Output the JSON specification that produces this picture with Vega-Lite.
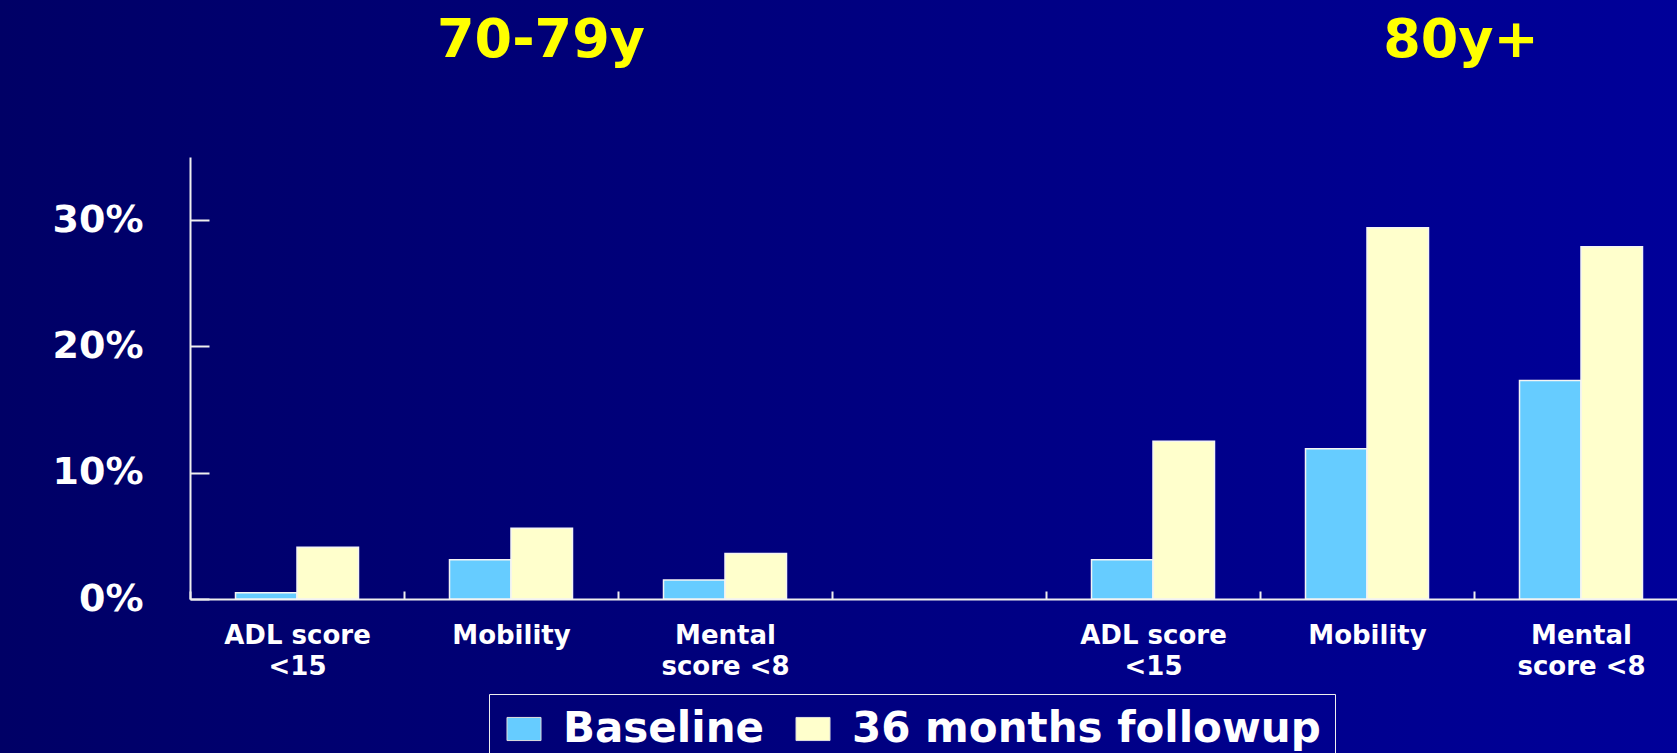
{
  "$schema": "https://vega.github.io/schema/vega-lite/v6.json",
  "width": 1677,
  "height": 753,
  "autosize": {"type": "none"},
  "padding": 0,
  "background": "#000066",
  "config": {
    "view": {
      "stroke": null,
      "fill": {
        "gradient": "linear",
        "x1": 0, "y1": 0, "x2": 1, "y2": 0,
        "stops": [
          {"offset": 0, "color": "#000066"},
          {"offset": 1, "color": "#000099"}
        ]
      }
    },
    "axis": {"grid": false}
  },
  "datasets": {
    "rates": [
      {"slot": "70-79y ADL score <15", "age": "70-79y", "measure": "ADL score <15", "series": "Baseline", "pct": 0.5},
      {"slot": "70-79y ADL score <15", "age": "70-79y", "measure": "ADL score <15", "series": "36 months followup", "pct": 4.1},
      {"slot": "70-79y Mobility", "age": "70-79y", "measure": "Mobility", "series": "Baseline", "pct": 3.1},
      {"slot": "70-79y Mobility", "age": "70-79y", "measure": "Mobility", "series": "36 months followup", "pct": 5.6},
      {"slot": "70-79y Mental score <8", "age": "70-79y", "measure": "Mental score <8", "series": "Baseline", "pct": 1.5},
      {"slot": "70-79y Mental score <8", "age": "70-79y", "measure": "Mental score <8", "series": "36 months followup", "pct": 3.6},
      {"slot": "80y+ ADL score <15", "age": "80y+", "measure": "ADL score <15", "series": "Baseline", "pct": 3.1},
      {"slot": "80y+ ADL score <15", "age": "80y+", "measure": "ADL score <15", "series": "36 months followup", "pct": 12.5},
      {"slot": "80y+ Mobility", "age": "80y+", "measure": "Mobility", "series": "Baseline", "pct": 11.9},
      {"slot": "80y+ Mobility", "age": "80y+", "measure": "Mobility", "series": "36 months followup", "pct": 29.4},
      {"slot": "80y+ Mental score <8", "age": "80y+", "measure": "Mental score <8", "series": "Baseline", "pct": 17.3},
      {"slot": "80y+ Mental score <8", "age": "80y+", "measure": "Mental score <8", "series": "36 months followup", "pct": 27.9}
    ],
    "groups": [
      {"slot": "70-79y Mobility", "age": "70-79y"},
      {"slot": "80y+ Mobility", "age": "80y+"}
    ]
  },
  "layer": [
    {
      "data": {"name": "rates"},
      "mark": {"type": "bar", "stroke": "#F4F4F4", "strokeWidth": 1.5},
      "encoding": {
        "x": {
          "field": "slot",
          "type": "nominal",
          "scale": {
            "domain": [
              "70-79y ADL score <15", "70-79y Mobility", "70-79y Mental score <8",
              "gap",
              "80y+ ADL score <15", "80y+ Mobility", "80y+ Mental score <8"
            ],
            "range": [190, 1688],
            "paddingInner": 0,
            "paddingOuter": 0
          },
          "axis": {
            "title": null,
            "offset": -154,
            "domainColor": "#EEEEEE",
            "domainWidth": 2,
            "tickColor": "#EEEEEE",
            "tickWidth": 2,
            "tickSize": -8,
            "tickBand": "extent",
            "labelAngle": 0,
            "labelPadding": 31,
            "labelFont": "DejaVu Sans",
            "labelFontWeight": "bold",
            "labelFontSize": 26,
            "labelLineHeight": 31,
            "labelColor": "white",
            "labelLimit": 0,
            "labelOverlap": false,
            "labelExpr": "indexof(datum.label, 'ADL') >= 0 ? ['ADL score', '<15'] : indexof(datum.label, 'Mobility') >= 0 ? 'Mobility' : indexof(datum.label, 'Mental') >= 0 ? ['Mental', 'score <8'] : ''"
          }
        },
        "xOffset": {
          "field": "series",
          "type": "nominal",
          "scale": {
            "domain": ["Baseline", "36 months followup"],
            "paddingInner": 0,
            "paddingOuter": 0.74
          }
        },
        "y": {
          "field": "pct",
          "type": "quantitative",
          "scale": {"domain": [0, 35], "range": [599, 157], "nice": false},
          "axis": {
            "title": null,
            "offset": -190,
            "values": [0, 10, 20, 30],
            "labelExpr": "datum.value + '%'",
            "domainColor": "#EEEEEE",
            "domainWidth": 2,
            "tickColor": "#EEEEEE",
            "tickWidth": 2,
            "tickSize": -19,
            "labelPadding": 66,
            "labelFont": "DejaVu Sans",
            "labelFontWeight": "bold",
            "labelFontSize": 38,
            "labelColor": "white"
          }
        },
        "color": {
          "field": "series",
          "type": "nominal",
          "scale": {
            "domain": ["Baseline", "36 months followup"],
            "range": ["#66CCFF", "#FFFFCC"]
          },
          "legend": {
            "title": null,
            "orient": "none",
            "legendX": 489,
            "legendY": 694,
            "direction": "horizontal",
            "padding": 14,
            "strokeColor": "#EEEEEE",
            "symbolType": "M-1,-0.68H1V0.68H-1Z",
            "symbolSize": 1156,
            "symbolOpacity": 1,
            "symbolStrokeColor": "#DDDDDD",
            "symbolStrokeWidth": 1,
            "labelFont": "DejaVu Sans",
            "labelFontWeight": "bold",
            "labelFontSize": 42,
            "labelColor": "white",
            "labelLimit": 0,
            "labelOffset": 18,
            "columnPadding": 27
          }
        }
      }
    },
    {
      "data": {"name": "groups"},
      "transform": [{"filter": "datum.age == '70-79y'"}],
      "mark": {
        "type": "text",
        "font": "DejaVu Sans",
        "fontWeight": "bold",
        "fontSize": 54,
        "color": "#FFFF00",
        "align": "center",
        "baseline": "alphabetic",
        "dx": 30
      },
      "encoding": {
        "x": {"field": "slot", "type": "nominal"},
        "y": {"datum": 42.9, "type": "quantitative"},
        "text": {"field": "age"}
      }
    },
    {
      "data": {"name": "groups"},
      "transform": [{"filter": "datum.age == '80y+'"}],
      "mark": {
        "type": "text",
        "font": "DejaVu Sans",
        "fontWeight": "bold",
        "fontSize": 54,
        "color": "#FFFF00",
        "align": "center",
        "baseline": "alphabetic",
        "dx": 94
      },
      "encoding": {
        "x": {"field": "slot", "type": "nominal"},
        "y": {"datum": 42.9, "type": "quantitative"},
        "text": {"field": "age"}
      }
    }
  ]
}
